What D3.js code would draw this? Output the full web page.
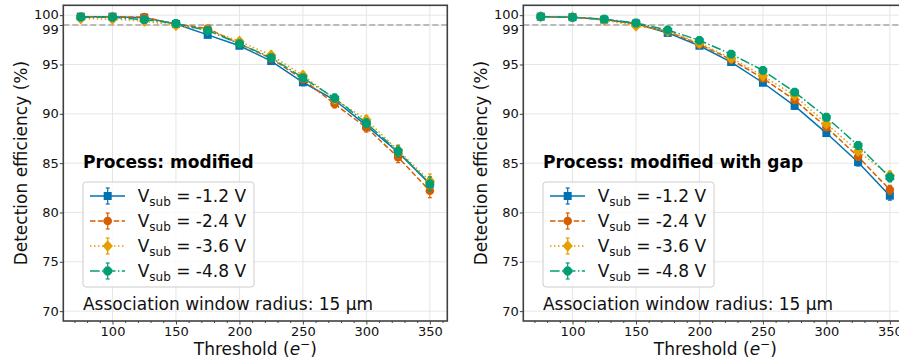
<!DOCTYPE html>
<html>
<head>
<meta charset="utf-8">
<script src="https://cdn.jsdelivr.net/npm/d3@7"></script>
<style>
  body { margin: 0; background: #fff; overflow: hidden; }
  text { font-family: "DejaVu Sans", sans-serif; }
</style>
</head>
<body>
<div id="chart"></div>
<script>
// thresholds in electrons
var thresholds = [75, 100, 125, 150, 175, 200, 225, 250, 275, 300, 325, 350];
var voltages = ["-1.2", "-2.4", "-3.6", "-4.8"];

// detection efficiency (%), one row per voltage
var modified = [
    [99.85, 99.85, 99.75, 99.1, 98.0, 96.9, 95.35, 93.2, 91.4, 88.8, 86.1, 82.9],
    [99.85, 99.85, 99.8, 99.1, 98.65, 97.1, 95.6, 93.5, 91.0, 88.6, 85.6, 82.2],
    [99.65, 99.6, 99.4, 98.95, 98.5, 97.35, 95.95, 93.9, 91.5, 89.4, 86.3, 83.2],
    [99.8, 99.78, 99.55, 99.15, 98.45, 97.1, 95.7, 93.65, 91.6, 89.05, 86.2, 82.9]
];
var modifiedErr = [0.1, 0.1, 0.12, 0.15, 0.2, 0.25, 0.3, 0.35, 0.4, 0.45, 0.55, 0.7];

var withGap = [
    [99.85, 99.8, 99.55, 99.15, 98.2, 96.9, 95.25, 93.15, 90.8, 88.05, 85.1, 81.7],
    [99.85, 99.8, 99.55, 99.1, 98.35, 97.05, 95.5, 93.6, 91.4, 88.65, 85.65, 82.3],
    [99.85, 99.8, 99.5, 98.9, 98.4, 97.15, 95.65, 93.85, 91.85, 89.0, 86.2, 83.75],
    [99.85, 99.78, 99.6, 99.2, 98.5, 97.45, 96.05, 94.4, 92.2, 89.65, 86.8, 83.55]
];
var withGapErr = [0.08, 0.08, 0.1, 0.12, 0.15, 0.2, 0.22, 0.25, 0.3, 0.33, 0.38, 0.45];

var xTicks = [100, 150, 200, 250, 300, 350];
var xMinor = [70, 80, 90, 110, 120, 130, 140, 160, 170, 180, 190, 210, 220, 230, 240,
              260, 270, 280, 290, 310, 320, 330, 340, 360];
var yTicks = [70, 75, 80, 85, 90, 95, 99, 100];
var panelTitles = ["Process: modified", "Process: modified with gap"];
var note = "Association window radius: 15 \u00b5m";

const W = 899, H = 360;
const colors = ["#0072B2", "#D55E00", "#E69F00", "#009E73"];
const dashes = [null, "5.5,2.4", "1.5,2.5", "9.6,2.4,1.5,2.4"];

const svg = d3.select("#chart").append("svg")
    .attr("width", W)
    .attr("height", H);

const pw = 384, ph = 315.7;
var x = d3.scaleLinear().domain([61.25, 363.75]).range([0, pw]);
var y = d3.scaleLinear().domain([69, 101]).range([ph, 0]);

// marker shapes: square, circle, diamond, octagon
function marker(sel, i, cx, cy) {
    if (i == 0) {
        sel.append("rect").attr("x", cx - 4).attr("y", cy - 4)
            .attr("width", 8).attr("height", 8).attr("fill", colors[i]);
    } else if (i == 1) {
        sel.append("circle").attr("cx", cx).attr("cy", cy).attr("r", 4.3).attr("fill", colors[i]);
    } else if (i == 2) {
        sel.append("path").attr("d", `M${cx},${cy - 5.8}L${cx + 5.2},${cy}L${cx},${cy + 5.8}L${cx - 5.2},${cy}Z`)
            .attr("fill", colors[i]);
    } else {
        var pts = d3.range(8).map(k => {
            var a = Math.PI / 8 + k * Math.PI / 4;
            return [cx + 4.8 * Math.cos(a), cy + 4.8 * Math.sin(a)];
        });
        sel.append("path").attr("d", "M" + pts.join("L") + "Z").attr("fill", colors[i]);
    }
}

function drawPanel(ox, title, values, errs) {
    const g = svg.append("g").attr("transform", `translate(${ox},5.3)`);

    // grid
    g.selectAll("line.gx").data(xTicks).enter().append("line")
        .attr("x1", d => x(d)).attr("x2", d => x(d))
        .attr("y1", 0).attr("y2", ph)
        .attr("stroke", "#e6e6e6").attr("stroke-width", 1);
    g.selectAll("line.gy").data(yTicks).enter().append("line")
        .attr("x1", 0).attr("x2", pw)
        .attr("y1", d => y(d)).attr("y2", d => y(d))
        .attr("stroke", "#e6e6e6").attr("stroke-width", 1);

    // 99% reference
    g.append("line")
        .attr("x1", 0).attr("x2", pw)
        .attr("y1", y(99)).attr("y2", y(99))
        .attr("stroke", "#a8a8a8").attr("stroke-width", 1.6)
        .attr("stroke-dasharray", "6,3");

    var line = d3.line().x((d, k) => x(thresholds[k])).y(d => y(d));

    values.forEach((vals, i) => {
        var s = g.append("g");
        s.append("path").datum(vals)
            .attr("d", line)
            .attr("fill", "none")
            .attr("stroke", colors[i])
            .attr("stroke-width", 1.5)
            .attr("stroke-dasharray", dashes[i]);
        vals.forEach((v, k) => {
            var cx = x(thresholds[k]);
            var e = errs[k];
            s.append("line").attr("x1", cx).attr("x2", cx)
                .attr("y1", y(v - e)).attr("y2", y(v + e))
                .attr("stroke", colors[i]).attr("stroke-width", 1.2);
            [v - e, v + e].forEach(c => {
                s.append("line").attr("x1", cx - 2).attr("x2", cx + 2)
                    .attr("y1", y(c)).attr("y2", y(c))
                    .attr("stroke", colors[i]).attr("stroke-width", 1.2);
            });
            marker(s, i, cx, y(v));
        });
    });

    // axes
    var ax = g.append("g").attr("transform", `translate(0,${ph})`)
        .call(d3.axisBottom(x).tickValues(xTicks).tickSize(3.5).tickSizeOuter(0).tickPadding(2.3));
    ax.selectAll("text").attr("font-size", 13).attr("fill", "#111").attr("font-family", "DejaVu Sans");
    var axm = g.append("g").attr("transform", `translate(0,${ph})`)
        .call(d3.axisBottom(x).tickValues(xMinor).tickSize(2).tickSizeOuter(0).tickFormat(""));
    var ay = g.append("g")
        .call(d3.axisLeft(y).tickValues(yTicks).tickSize(3.5).tickSizeOuter(0).tickPadding(1));
    // 99 and 100 sit close together, nudge their labels apart
    ay.selectAll("text").attr("font-size", 13).attr("fill", "#111").attr("font-family", "DejaVu Sans")
        .attr("dy", d => d == 99 ? "0.62em" : d == 100 ? "0.22em" : "0.32em");
    [ax, axm, ay].forEach(a => {
        a.select(".domain").remove();
        a.selectAll("line").attr("stroke", "#404040").attr("stroke-width", 1);
    });

    g.append("rect").attr("width", pw).attr("height", ph)
        .attr("fill", "none").attr("stroke", "#404040").attr("stroke-width", 1.6);

    // title + legend
    g.append("text").attr("x", 19.7).attr("y", 162.7)
        .attr("font-size", 17).attr("font-weight", "bold").attr("fill", "#000")
        .text(title);

    var lg = g.append("g").attr("transform", "translate(19.7,176.7)");
    lg.append("rect").attr("width", 171).attr("height", 105).attr("rx", 3)
        .attr("fill", "#fff").attr("fill-opacity", 0.8)
        .attr("stroke", "#cccccc").attr("stroke-width", 1);
    voltages.forEach((v, i) => {
        var cy = 14 + i * 25;
        var e = lg.append("g");
        e.append("line").attr("x1", 7).attr("x2", 42).attr("y1", cy).attr("y2", cy)
            .attr("stroke", colors[i]).attr("stroke-width", 1.5)
            .attr("stroke-dasharray", dashes[i]);
        e.append("line").attr("x1", 24.7).attr("x2", 24.7).attr("y1", cy - 8).attr("y2", cy + 8)
            .attr("stroke", colors[i]).attr("stroke-width", 1.2);
        [cy - 8, cy + 8].forEach(c => {
            e.append("line").attr("x1", 22.7).attr("x2", 26.7).attr("y1", c).attr("y2", c)
                .attr("stroke", colors[i]).attr("stroke-width", 1.2);
        });
        marker(e, i, 24.7, cy);
        var t = e.append("text").attr("x", 54.7).attr("y", cy + 6).attr("font-size", 17).attr("fill", "#111");
        t.append("tspan").text("V");
        t.append("tspan").attr("font-size", 12).attr("dy", 4).text("sub");
        t.append("tspan").attr("dy", -4).text(` = ${v} V`);
    });

    g.append("text").attr("x", 19.7).attr("y", 304.5)
        .attr("font-size", 17).attr("fill", "#111").text(note);

    // axis labels
    var xl = g.append("text").attr("x", pw / 2).attr("y", 350)
        .attr("text-anchor", "middle").attr("font-size", 17).attr("fill", "#111");
    xl.append("tspan").text("Threshold (");
    xl.append("tspan").attr("font-style", "italic").text("e");
    xl.append("tspan").attr("font-size", 12).attr("dy", -7).text("\u2212");
    xl.append("tspan").attr("dy", 7).text(")");

    g.append("text")
        .attr("transform", `translate(-36,${ph / 2}) rotate(-90)`)
        .attr("text-anchor", "middle").attr("font-size", 17).attr("fill", "#111")
        .text("Detection efficiency (%)");
}

drawPanel(63.3, panelTitles[0], modified, modifiedErr);
drawPanel(523.3, panelTitles[1], withGap, withGapErr);
</script>
</body>
</html>
